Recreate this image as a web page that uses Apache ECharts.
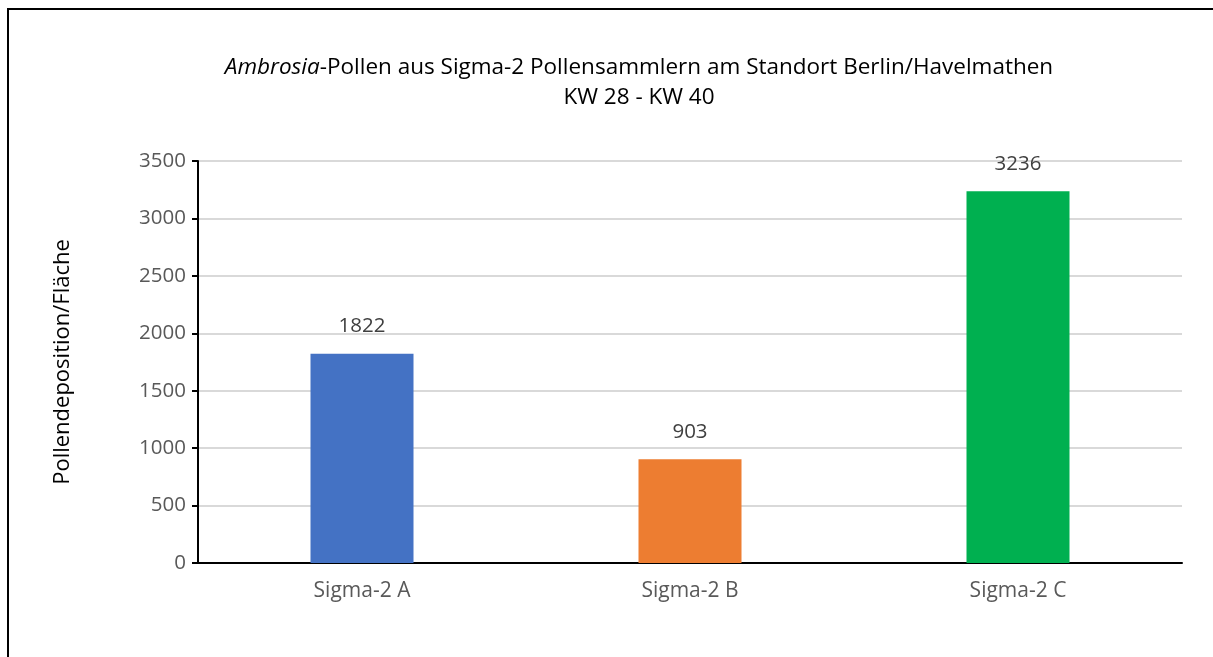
<!DOCTYPE html>
<html><head><meta charset="utf-8">
<script src="https://cdn.jsdelivr.net/npm/echarts@6/dist/echarts.min.js"></script>
<style>html,body{margin:0;padding:0;background:#fff}#c{width:1213px;height:657px}</style>
</head><body><div id="c"></div>
<script>
var categories = ['Sigma-2 A', 'Sigma-2 B', 'Sigma-2 C'];
var values = [1822, 903, 3236];
var colors = ['#4472C4', '#ED7D31', '#00B050'];
var yTicks = {min: 0, max: 3500, interval: 500};

var chart = echarts.init(document.getElementById('c'), null, {renderer: 'canvas'});
var F = '"Open Sans", "Noto Sans", sans-serif';
chart.setOption({
  animation: false,
  backgroundColor: '#fff',
  graphic: [{
    type: 'rect', shape: {x: 8, y: 9, width: 1240, height: 700},
    style: {fill: 'none', stroke: '#000', lineWidth: 2}, silent: true
  }],
  title: {
    text: '{i|Ambrosia}{n|-Pollen aus Sigma-2 Pollensammlern am Standort Berlin/Havelmathen}\n{n|KW 28 - KW 40}',
    left: 634, top: 48, textAlign: 'center',
    textStyle: {
      fontWeight: 'normal',
      rich: {
        i: {fontStyle: 'italic', fontWeight: 'normal', fontSize: 22.5, fontFamily: F, color: '#000', lineHeight: 30},
        n: {fontWeight: 'normal', fontSize: 22.5, fontFamily: F, color: '#000', lineHeight: 30}
      }
    }
  },
  grid: {left: 198, right: 31, top: 161, bottom: 94, containLabel: false},
  xAxis: {
    type: 'category', data: categories,
    axisLine: {lineStyle: {color: '#000', width: 2}},
    axisTick: {show: false},
    axisLabel: {color: '#595959', fontSize: 21, fontFamily: F, margin: 18}
  },
  yAxis: {
    type: 'value', min: yTicks.min, max: yTicks.max, interval: yTicks.interval,
    name: 'Pollendeposition/Fläche', nameLocation: 'middle', nameGap: 124,
    nameTextStyle: {color: '#000', fontSize: 22, fontFamily: F},
    axisLine: {show: true, lineStyle: {color: '#000', width: 2}},
    axisTick: {show: true, length: 6, lineStyle: {color: '#000', width: 2}},
    axisLabel: {color: '#595959', fontSize: 20.5, fontFamily: F, margin: 12,
      formatter: function (v) { return String(v); }},
    splitLine: {lineStyle: {color: '#d9d9d9', width: 2}}
  },
  series: [{
    type: 'bar', barWidth: 103,
    data: values.map(function (v, i) { return {value: v, itemStyle: {color: colors[i]}}; }),
    label: {show: true, position: 'top', distance: 17, color: '#404040', fontSize: 20.5, fontFamily: F}
  }]
});
</script></body></html>
